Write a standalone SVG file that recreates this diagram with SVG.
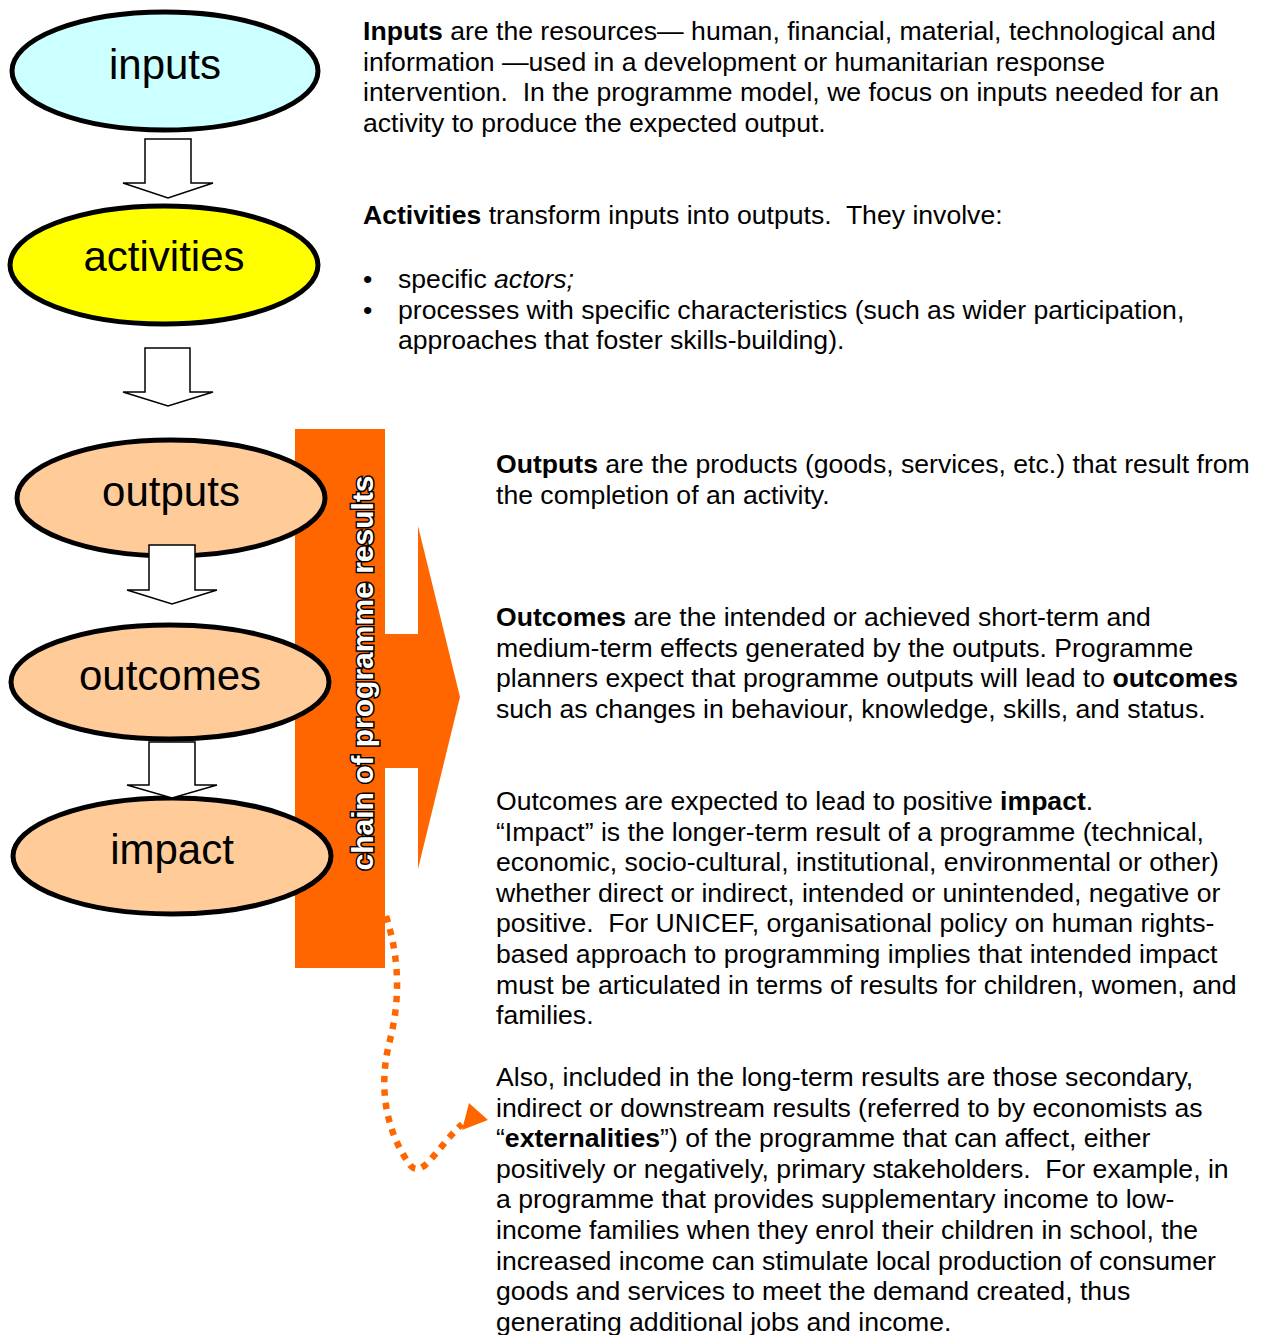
<svg xmlns="http://www.w3.org/2000/svg" width="1265" height="1335" viewBox="0 0 1265 1335">
<style>
.node{stroke:#000;stroke-width:5}
.lbl{font-family:"Liberation Sans",Arial,sans-serif;font-size:42px;text-anchor:middle;fill:#000}
.body{font-family:"Liberation Sans",Arial,sans-serif;font-size:26.6px;fill:#000}
.blk{fill:#fff;stroke:#000;stroke-width:1.5;stroke-linejoin:miter}
.vert{font-family:"Liberation Sans",Arial,sans-serif;font-size:30px;font-weight:bold;fill:#fff;stroke:#000;stroke-width:3;paint-order:stroke;text-anchor:middle}
</style>
<rect width="1265" height="1335" fill="#fff"/>
<g id="chain-banner">
<rect x="295" y="429" width="90" height="539" fill="#FF6600"/>
<polygon points="385,634 418,634 418,526 460,697 418,869 418,768 385,768" fill="#FF6600"/>
</g>
<g id="node-inputs"><ellipse class="node" cx="165" cy="71" rx="153" ry="59" fill="#CCFFFF"/><text class="lbl" x="165" y="79">inputs</text></g>
<g id="node-activities"><ellipse class="node" cx="164" cy="265" rx="154" ry="59" fill="#FFFF00"/><text class="lbl" x="164" y="271">activities</text></g>
<g id="node-outputs"><ellipse class="node" cx="171" cy="498" rx="154" ry="58" fill="#FFCC99"/><text class="lbl" x="171" y="506">outputs</text></g>
<g id="node-outcomes"><ellipse class="node" cx="170" cy="682" rx="159" ry="57" fill="#FFCC99"/><text class="lbl" x="170" y="690">outcomes</text></g>
<g id="node-impact"><ellipse class="node" cx="172" cy="856" rx="159" ry="58" fill="#FFCC99"/><text class="lbl" x="172" y="864">impact</text></g>
<g id="connectors">
<path class="blk" d="M145,139 H191 V183 H213 L168,198 L123,183 H145 Z"/>
<path class="blk" d="M145,348 H190 V392 H213 L168,406 L123,392 H145 Z"/>
<path class="blk" d="M149,545 H195 V590 H217 L172,604 L127,590 H149 Z"/>
<path class="blk" d="M149,742 H195 V785 H217 L172,798 L127,785 H149 Z"/>
<path d="M386,916 C400,960 400,1000 390,1040 C378,1085 385,1130 410,1165 C422,1180 435,1150 462,1124" fill="none" stroke="#FF6600" stroke-width="6.5" stroke-dasharray="6.5 7"/>
<polygon points="488,1120 469,1103 462,1130" fill="#FF6600"/>
</g>
<g id="chain-label"><text class="vert" transform="translate(373,673) rotate(-90)">chain of programme results</text></g>
<g id="text-inputs" class="body">
<text x="363" y="40"><tspan font-weight="bold">Inputs</tspan> are the resources— human, financial, material, technological and</text>
<text x="363" y="70.6">information —used in a development or humanitarian response</text>
<text x="363" y="101.2" xml:space="preserve">intervention.  In the programme model, we focus on inputs needed for an</text>
<text x="363" y="131.8">activity to produce the expected output.</text>
</g>
<g id="text-activities" class="body">
<text x="363" y="224" xml:space="preserve"><tspan font-weight="bold">Activities</tspan> transform inputs into outputs.  They involve:</text>
<text x="363" y="288">•</text><text x="398" y="288">specific <tspan font-style="italic">actors;</tspan></text>
<text x="363" y="318.6">•</text><text x="398" y="318.6">processes with specific characteristics (such as wider participation,</text>
<text x="398" y="349.2">approaches that foster skills-building).</text>
</g>
<g id="text-outputs" class="body">
<text x="496" y="473"><tspan font-weight="bold">Outputs</tspan> are the products (goods, services, etc.) that result from</text>
<text x="496" y="503.6">the completion of an activity.</text>
</g>
<g id="text-outcomes" class="body">
<text x="496" y="626"><tspan font-weight="bold">Outcomes</tspan> are the intended or achieved short-term and</text>
<text x="496" y="656.6">medium-term effects generated by the outputs. Programme</text>
<text x="496" y="687.2">planners expect that programme outputs will lead to <tspan font-weight="bold">outcomes</tspan></text>
<text x="496" y="717.8">such as changes in behaviour, knowledge, skills, and status.</text>
</g>
<g id="text-impact" class="body">
<text x="496" y="810">Outcomes are expected to lead to positive <tspan font-weight="bold">impact</tspan>.</text>
<text x="496" y="840.6">“Impact” is the longer-term result of a programme (technical,</text>
<text x="496" y="871.2">economic, socio-cultural, institutional, environmental or other)</text>
<text x="496" y="901.8">whether direct or indirect, intended or unintended, negative or</text>
<text x="496" y="932.4" xml:space="preserve">positive.  For UNICEF, organisational policy on human rights-</text>
<text x="496" y="963">based approach to programming implies that intended impact</text>
<text x="496" y="993.6">must be articulated in terms of results for children, women, and</text>
<text x="496" y="1024.2">families.</text>
</g>
<g id="text-externalities" class="body">
<text x="496" y="1086">Also, included in the long-term results are those secondary,</text>
<text x="496" y="1116.6">indirect or downstream results (referred to by economists as</text>
<text x="496" y="1147.2">“<tspan font-weight="bold">externalities</tspan>”) of the programme that can affect, either</text>
<text x="496" y="1177.8" xml:space="preserve">positively or negatively, primary stakeholders.  For example, in</text>
<text x="496" y="1208.4">a programme that provides supplementary income to low-</text>
<text x="496" y="1239">income families when they enrol their children in school, the</text>
<text x="496" y="1269.6">increased income can stimulate local production of consumer</text>
<text x="496" y="1300.2">goods and services to meet the demand created, thus</text>
<text x="496" y="1330.8">generating additional jobs and income.</text>
</g>
</svg>
